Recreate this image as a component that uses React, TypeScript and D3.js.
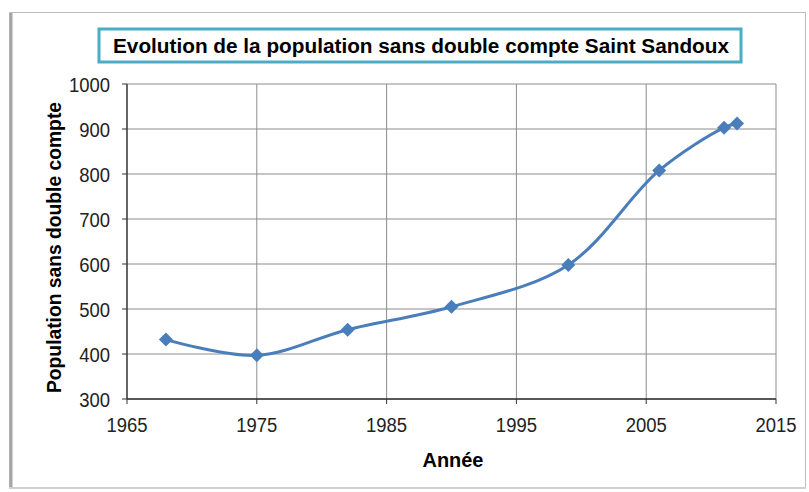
import React from 'react';
import * as d3 from 'd3';

const years = [1968, 1975, 1982, 1990, 1999, 2006, 2011, 2012];
const population = [432, 397, 454, 505, 598, 808, 903, 912];
const xTicks = [1965, 1975, 1985, 1995, 2005, 2015];
const yTicks = [300, 400, 500, 600, 700, 800, 900, 1000];
const title = 'Evolution de la population sans double compte  Saint Sandoux';

const W = 809, H = 492;
const margin = { top: 84, right: 33, bottom: 93, left: 127 };

export default function App() {
  const x = d3.scaleLinear().domain([1965, 2015]).range([margin.left, W - margin.right]);
  const y = d3.scaleLinear().domain([300, 1000]).range([H - margin.bottom, margin.top]);

  const pts = years.map((yr, i) => [x(yr), y(population[i])] as [number, number]);
  const line = d3.line().curve(d3.curveCatmullRom.alpha(0.5))(pts) || '';

  const font = 'Liberation Sans, Arial, sans-serif';
  const x0 = x.range()[0], x1 = x.range()[1];
  const y0 = y.range()[0], y1 = y.range()[1];
  const sx = 0.88; // text in the picture looks horizontally squeezed

  return (
    <svg width={W} height={H} style={{ position: 'absolute', left: 0, top: 0, background: '#fff' }}>
      {/* outer frame */}
      <rect x={9.5} y={12.5} width={W - 13} height={H - 16} fill="#fff" stroke="#bdbdbd" strokeWidth={1} />
      <line x1={11} y1={13} x2={11} y2={H - 3} stroke="#a6a6a6" strokeWidth={3} />
      <line x1={9} y1={H - 4} x2={W - 3} y2={H - 4} stroke="#d0d0d0" strokeWidth={2} />

      {/* title */}
      <rect x={99} y={29} width={642} height={33} fill="#fff" stroke="#4bacc6" strokeWidth={3} />
      <text x={421} y={53} textAnchor="middle" fontFamily={font} fontWeight="bold" fontSize={20}
        textLength={616} lengthAdjust="spacingAndGlyphs" fill="#000">{title}</text>

      {/* grid */}
      {yTicks.map(t => (
        <line key={'gy' + t} x1={x0} x2={x1} y1={y(t)} y2={y(t)} stroke="#8c8c8c" strokeWidth={1} />
      ))}
      {xTicks.map(t => (
        <line key={'gx' + t} x1={x(t)} x2={x(t)} y1={y0} y2={y1} stroke="#8c8c8c" strokeWidth={1} />
      ))}

      {/* axes */}
      <line x1={x0} x2={x0} y1={y1} y2={y0} stroke="#333" strokeWidth={1.3} />
      <line x1={x0} x2={x1} y1={y0} y2={y0} stroke="#333" strokeWidth={1.3} />
      {yTicks.map(t => (
        <g key={'ty' + t}>
          <line x1={x0 - 5} x2={x0} y1={y(t)} y2={y(t)} stroke="#333" />
          <text transform={`translate(${x0 - 17},${y(t) + 8}) scale(${sx},1)`} textAnchor="end"
            fontFamily={font} fontSize={21} fill="#222">{t}</text>
        </g>
      ))}
      {xTicks.map(t => (
        <g key={'tx' + t}>
          <line x1={x(t)} x2={x(t)} y1={y0} y2={y0 + 5} stroke="#333" />
          <text transform={`translate(${x(t)},${y0 + 33}) scale(${sx},1)`} textAnchor="middle"
            fontFamily={font} fontSize={21} fill="#222">{t}</text>
        </g>
      ))}

      {/* axis titles */}
      <text transform={`translate(453,467) scale(0.95,1)`} textAnchor="middle" fontFamily={font}
        fontWeight="bold" fontSize={21} fill="#000">Année</text>
      <text transform={`translate(61,${(y0 + y1) / 2 + 6}) rotate(-90)`} textAnchor="middle" fontFamily={font}
        fontWeight="bold" fontSize={21} textLength={291} lengthAdjust="spacingAndGlyphs" fill="#000">Population sans double compte</text>

      {/* series */}
      <path d={line} fill="none" stroke="#4a7ebb" strokeWidth={3} strokeLinejoin="round" />
      {pts.map(([px, py], i) => (
        <path key={'m' + i} d={`M${px},${py - 7}L${px + 7},${py}L${px},${py + 7}L${px - 7},${py}Z`} fill="#4a7ebb" />
      ))}
    </svg>
  );
}
